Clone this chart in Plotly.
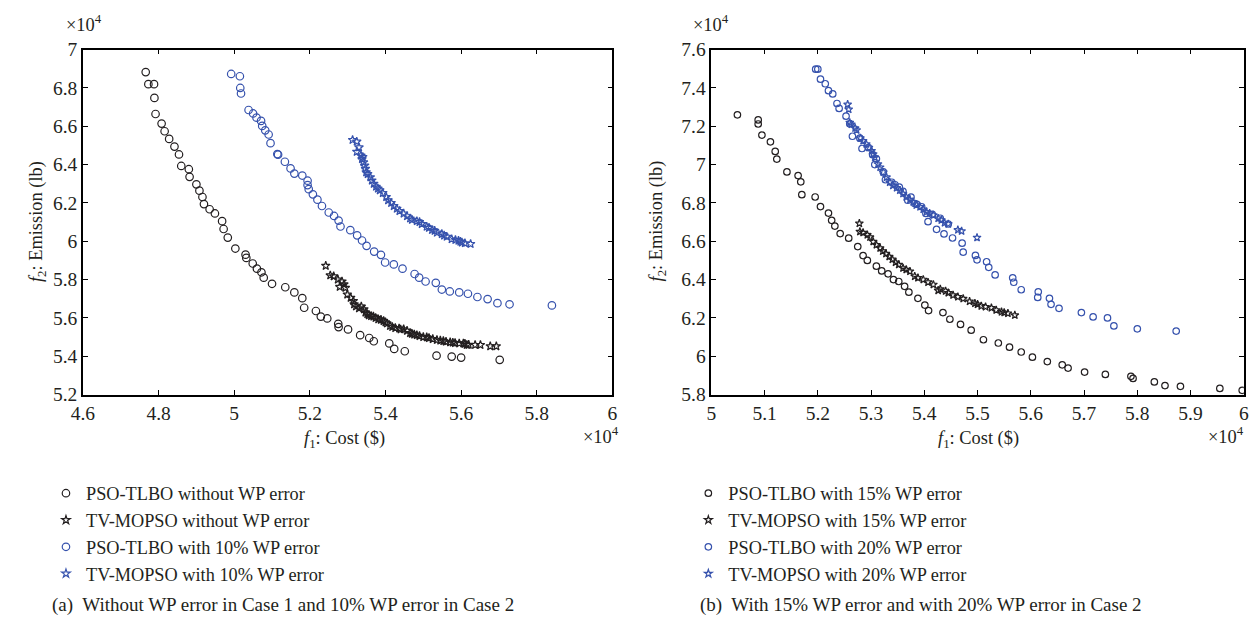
import plotly.graph_objects as go

# ---------------- data (units of 1e4) ----------------
# (a) PSO-TLBO without WP error
a_pso0_x = [4.766,4.773,4.788,4.789,4.792,4.808,4.816,4.828,4.842,4.854,4.86,4.88,4.882,4.9,4.908,4.916,4.92,4.935,4.949,4.968,4.972,4.983,5.003,5.03,5.032,5.049,5.06,5.072,5.078,5.1,5.135,5.159,5.18,5.185,5.216,5.229,5.246,5.275,5.276,5.301,5.333,5.357,5.369,5.41,5.423,5.451,5.535,5.575,5.6,5.702]
a_pso0_y = [6.883,6.82,6.82,6.748,6.664,6.614,6.574,6.534,6.494,6.453,6.393,6.376,6.336,6.297,6.264,6.231,6.194,6.167,6.145,6.105,6.064,6.019,5.962,5.93,5.913,5.884,5.857,5.838,5.81,5.778,5.76,5.733,5.703,5.653,5.636,5.607,5.597,5.569,5.552,5.54,5.51,5.495,5.478,5.467,5.438,5.426,5.403,5.398,5.393,5.381]
# (a) TV-MOPSO without WP error
a_tv0_x = [5.242,5.254,5.263,5.274,5.279,5.285,5.29,5.294,5.299,5.308,5.315,5.317,5.322,5.33,5.336,5.343,5.347,5.352,5.356,5.362,5.368,5.374,5.381,5.388,5.395,5.4,5.404,5.412,5.418,5.426,5.436,5.44,5.448,5.457,5.465,5.47,5.476,5.483,5.49,5.5,5.509,5.515,5.525,5.536,5.545,5.553,5.56,5.571,5.578,5.584,5.595,5.606,5.61,5.615,5.62,5.637,5.651,5.677,5.693]
a_tv0_y = [5.872,5.822,5.817,5.8,5.762,5.79,5.775,5.757,5.722,5.705,5.688,5.671,5.66,5.65,5.659,5.645,5.628,5.62,5.614,5.61,5.607,5.6,5.593,5.59,5.584,5.577,5.571,5.558,5.553,5.547,5.545,5.54,5.541,5.533,5.521,5.517,5.513,5.51,5.505,5.5,5.499,5.495,5.49,5.485,5.482,5.479,5.476,5.473,5.471,5.469,5.467,5.467,5.465,5.459,5.46,5.459,5.459,5.452,5.452]
# (a) PSO-TLBO with 10% WP error
a_pso10_x = [4.992,5.015,5.016,5.018,5.038,5.05,5.059,5.071,5.074,5.082,5.091,5.096,5.114,5.116,5.134,5.149,5.159,5.18,5.194,5.194,5.197,5.208,5.22,5.232,5.25,5.264,5.276,5.281,5.307,5.325,5.338,5.35,5.37,5.388,5.399,5.422,5.445,5.477,5.489,5.506,5.533,5.549,5.57,5.595,5.618,5.643,5.67,5.696,5.728,5.84]
a_pso10_y = [6.873,6.861,6.8,6.771,6.685,6.667,6.645,6.628,6.602,6.579,6.557,6.512,6.455,6.452,6.415,6.38,6.353,6.343,6.316,6.293,6.272,6.245,6.217,6.184,6.15,6.132,6.108,6.077,6.058,6.031,6.004,5.976,5.946,5.929,5.889,5.879,5.857,5.829,5.81,5.79,5.783,5.748,5.738,5.733,5.726,5.709,5.698,5.677,5.671,5.665]
# (a) TV-MOPSO with 10% WP error
a_tv10_x = [5.313,5.324,5.324,5.33,5.335,5.338,5.34,5.342,5.345,5.347,5.349,5.353,5.36,5.364,5.369,5.375,5.38,5.385,5.393,5.402,5.407,5.415,5.422,5.43,5.437,5.448,5.457,5.465,5.47,5.483,5.49,5.496,5.509,5.515,5.523,5.53,5.536,5.549,5.555,5.562,5.575,5.585,5.593,5.598,5.602,5.61,5.625]
a_tv10_y = [6.529,6.52,6.467,6.49,6.447,6.429,6.44,6.412,6.395,6.378,6.36,6.351,6.334,6.317,6.3,6.285,6.275,6.266,6.252,6.231,6.214,6.2,6.184,6.17,6.158,6.145,6.131,6.119,6.112,6.105,6.1,6.09,6.076,6.07,6.059,6.055,6.045,6.038,6.03,6.024,6.011,6.007,6.003,5.998,5.993,5.99,5.986]

# (b) PSO-TLBO with 15% WP error
b_pso15_x = [5.049,5.088,5.088,5.095,5.111,5.12,5.123,5.142,5.163,5.168,5.17,5.195,5.205,5.22,5.226,5.232,5.242,5.258,5.275,5.285,5.293,5.31,5.32,5.332,5.342,5.352,5.363,5.371,5.388,5.401,5.408,5.435,5.448,5.468,5.488,5.511,5.539,5.56,5.582,5.603,5.631,5.659,5.67,5.701,5.74,5.788,5.792,5.832,5.852,5.881,5.955,5.997]
b_pso15_y = [7.26,7.233,7.212,7.154,7.119,7.069,7.029,6.962,6.943,6.91,6.843,6.831,6.781,6.747,6.709,6.679,6.64,6.616,6.572,6.525,6.5,6.47,6.445,6.43,6.4,6.39,6.365,6.334,6.302,6.267,6.238,6.228,6.193,6.166,6.136,6.086,6.069,6.047,6.022,5.995,5.972,5.955,5.938,5.917,5.905,5.895,5.884,5.866,5.847,5.843,5.832,5.822]
# (b) TV-MOPSO with 15% WP error
b_tv15_x = [5.278,5.279,5.285,5.293,5.298,5.304,5.31,5.317,5.322,5.328,5.334,5.34,5.346,5.352,5.36,5.366,5.373,5.382,5.388,5.398,5.407,5.417,5.426,5.43,5.44,5.445,5.454,5.463,5.473,5.485,5.495,5.5,5.507,5.515,5.526,5.535,5.545,5.55,5.557,5.57]
b_tv15_y = [6.693,6.65,6.645,6.633,6.621,6.598,6.581,6.564,6.548,6.535,6.52,6.505,6.49,6.478,6.46,6.452,6.443,6.417,6.409,6.4,6.386,6.374,6.343,6.35,6.34,6.331,6.319,6.31,6.3,6.286,6.276,6.27,6.262,6.258,6.252,6.241,6.231,6.228,6.224,6.214]
# (b) PSO-TLBO with 20% WP error
b_pso20_x = [5.196,5.2,5.205,5.214,5.22,5.228,5.236,5.24,5.253,5.26,5.265,5.279,5.283,5.295,5.303,5.307,5.31,5.323,5.327,5.339,5.345,5.353,5.36,5.369,5.375,5.382,5.386,5.395,5.403,5.407,5.415,5.423,5.43,5.437,5.445,5.453,5.471,5.473,5.496,5.499,5.517,5.521,5.533,5.566,5.568,5.582,5.614,5.613,5.635,5.638,5.653,5.695,5.717,5.744,5.756,5.8,5.873]
b_pso20_y = [7.498,7.498,7.446,7.422,7.386,7.369,7.319,7.293,7.253,7.213,7.148,7.138,7.084,7.089,7.052,7.0,7.03,6.962,6.921,6.908,6.895,6.883,6.86,6.814,6.83,6.797,6.793,6.78,6.745,6.702,6.74,6.662,6.72,6.638,6.69,6.617,6.59,6.543,6.526,6.503,6.493,6.464,6.424,6.409,6.386,6.347,6.336,6.307,6.302,6.271,6.25,6.228,6.205,6.2,6.158,6.143,6.131]
# (b) TV-MOPSO with 20% WP error
b_tv20_x = [5.256,5.258,5.26,5.263,5.27,5.273,5.28,5.285,5.291,5.296,5.301,5.304,5.307,5.313,5.317,5.323,5.329,5.335,5.341,5.348,5.354,5.36,5.366,5.373,5.379,5.385,5.392,5.398,5.404,5.41,5.417,5.426,5.432,5.438,5.445,5.463,5.47,5.499]
b_tv20_y = [7.314,7.288,7.219,7.21,7.19,7.18,7.138,7.124,7.107,7.089,7.072,7.055,7.038,7.003,6.986,6.96,6.934,6.908,6.891,6.879,6.866,6.848,6.831,6.817,6.805,6.788,6.779,6.766,6.753,6.745,6.736,6.719,6.71,6.696,6.69,6.659,6.653,6.619]

names_a = ["PSO-TLBO without WP error", "TV-MOPSO without WP error",
           "PSO-TLBO with 10% WP error", "TV-MOPSO with 10% WP error"]
names_b = ["PSO-TLBO with 15% WP error", "TV-MOPSO with 15% WP error",
           "PSO-TLBO with 20% WP error", "TV-MOPSO with 20% WP error"]

BLACK = "#231f20"
BLUE = "#3652ad"
FONT = "Liberation Serif"
W, H = 1251, 622
# The captured page includes an 8px body margin and is resized to the window,
# so target positions (window pixels) are mapped back to figure pixels.
OFF = 8
SX = W / (W + 2 * OFF)
SY = H / (H + 2 * OFF)

def px(x):
    return ((x - OFF) / SX) / W

def py(y):
    return 1 - ((y - OFF) / SY) / H

fig = go.Figure()

def add(x, y, name, color, symbol, size, xa, ya, legend):
    fig.add_trace(go.Scatter(
        x=x, y=y, mode="markers", name=name,
        marker=dict(symbol=symbol, size=size, color=color,
                    line=dict(color=color, width=1.2)),
        xaxis=xa, yaxis=ya, legend=legend, legendgroup=name))

add(a_pso0_x, a_pso0_y, names_a[0], BLACK, "circle-open", 7.5, "x", "y", "legend")
add(a_tv0_x, a_tv0_y, names_a[1], BLACK, "star-open", 6.5, "x", "y", "legend")
add(a_pso10_x, a_pso10_y, names_a[2], BLUE, "circle-open", 7.5, "x", "y", "legend")
add(a_tv10_x, a_tv10_y, names_a[3], BLUE, "star-open", 6.5, "x", "y", "legend")

add(b_pso15_x, b_pso15_y, names_b[0], BLACK, "circle-open", 6.5, "x2", "y2", "legend2")
add(b_tv15_x, b_tv15_y, names_b[1], BLACK, "star-open", 6, "x2", "y2", "legend2")
add(b_pso20_x, b_pso20_y, names_b[2], BLUE, "circle-open", 6.5, "x2", "y2", "legend2")
add(b_tv20_x, b_tv20_y, names_b[3], BLUE, "star-open", 6, "x2", "y2", "legend2")

axis_common = dict(showline=True, linecolor="black", linewidth=1.5, mirror="ticks",
                   ticks="inside", ticklen=5, tickwidth=1, tickcolor="black",
                   showgrid=False, zeroline=False,
                   tickfont=dict(family=FONT, size=19.5, color=BLACK))

ydom = [py(396), py(48)]
fig.update_layout(
    width=W, height=H, autosize=False,
    margin=dict(l=0, r=0, t=0, b=0),
    paper_bgcolor="white", plot_bgcolor="white",
    xaxis=dict(domain=[px(79), px(609)], range=[4.6, 6], tick0=4.6, dtick=0.2,
               anchor="y", **axis_common),
    yaxis=dict(domain=ydom, range=[5.2, 7], tick0=5.2, dtick=0.2,
               anchor="x", **axis_common),
    xaxis2=dict(domain=[px(708), px(1241)], range=[5, 6], tick0=5, dtick=0.1,
                anchor="y2", **axis_common),
    yaxis2=dict(domain=ydom, range=[5.8, 7.6], tick0=5.8, dtick=0.2,
                anchor="x2", **axis_common),
    legend=dict(x=px(42), y=py(477), xanchor="left", yanchor="top",
                font=dict(family=FONT, size=18.3, color=BLACK),
                bgcolor="rgba(0,0,0,0)", tracegroupgap=0, itemwidth=30),
    legend2=dict(x=px(685), y=py(477), xanchor="left", yanchor="top",
                 font=dict(family=FONT, size=18.3, color=BLACK),
                 bgcolor="rgba(0,0,0,0)", tracegroupgap=0, itemwidth=30),
    showlegend=True,
)

ann_font = dict(family=FONT, size=18.4, color=BLACK)
anns = [
    # y titles
    dict(x=px(33), y=py(221), text="<i>f</i><sub>2</sub>: Emission (lb)", textangle=-90),
    dict(x=px(654), y=py(221), text="<i>f</i><sub>2</sub>: Emission (lb)", textangle=-90),
    # x titles
    dict(x=px(341), y=py(441), text="<i>f</i><sub>1</sub>: Cost ($)"),
    dict(x=px(975), y=py(441), text="<i>f</i><sub>1</sub>: Cost ($)"),
    # bottom multiplier (left plot)
    dict(x=px(598), y=py(437), text="×10<sup>4</sup>"),
]
for a in anns:
    fig.add_annotation(xref="paper", yref="paper", showarrow=False,
                       font=ann_font, xanchor="center", yanchor="middle", **a)
# bottom multiplier (right plot), kept inside the page
fig.add_annotation(xref="paper", yref="paper", showarrow=False, font=ann_font,
                   x=1, y=py(437), xanchor="right", yanchor="middle",
                   text="×10<sup>4</sup>")
# top multipliers
for xc in (80, 708):
    fig.add_annotation(xref="paper", yref="paper", showarrow=False, font=ann_font,
                       x=px(xc), y=1, xanchor="center", yanchor="top",
                       text="×10<sup>4</sup>")

cap_font = dict(family=FONT, size=19, color=BLACK)
fig.add_annotation(xref="paper", yref="paper", showarrow=False, font=cap_font,
                   x=px(46), y=py(608), xanchor="left", yanchor="middle",
                   text="(a)&nbsp; Without WP error in Case 1 and 10% WP error in Case 2")
fig.add_annotation(xref="paper", yref="paper", showarrow=False, font=cap_font,
                   x=px(695), y=py(608), xanchor="left", yanchor="middle",
                   text="(b)&nbsp; With 15% WP error and with 20% WP error in Case 2")

fig.write_html("out.html")
